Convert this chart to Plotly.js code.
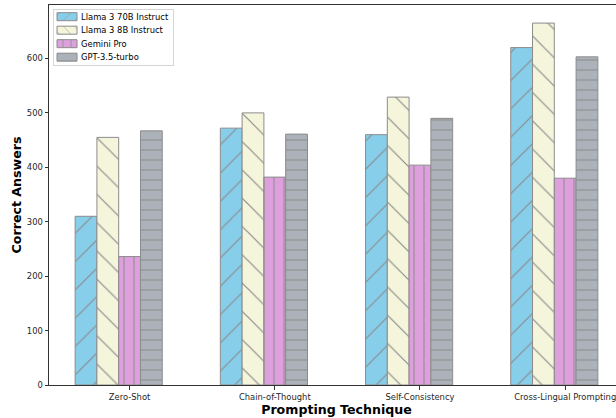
<!DOCTYPE html>
<html>
<head>
<meta charset="utf-8">
<script src="https://cdn.plot.ly/plotly-3.0.1.min.js"></script>
<style>
html,body{margin:0;padding:0;overflow:hidden;background:#fff;}
#chart{width:630px;height:418px;}
</style>
</head>
<body>
<div id="chart"></div>
<script>
const categories = ["Zero-Shot", "Chain-of-Thought", "Self-Consistency", "Cross-Lingual Prompting"];
const seriesNames = ["Llama 3 70B Instruct", "Llama 3 8B Instruct", "Gemini Pro", "GPT-3.5-turbo"];
const llama70 = [310, 472, 460, 620];
const llama8 = [455, 500, 529, 665];
const gemini = [236, 382, 404, 380];
const gpt35 = [467, 461, 490, 603];
const yTicks = [0, 100, 200, 300, 400, 500, 600];

const seriesValues = [llama70, llama8, gemini, gpt35];
const colors = ["#87ceeb", "#f5f5dc", "#dda0dd", "#abb2b9"];
const shapes = ["/", "\\", "|", "-"];
const sizes = [20, 20, 10, 10];
const solid = [0.06, 0.06, 0.1, 0.1];
const barW = 0.15;

const traces = seriesValues.map((vals, i) => ({
  type: "bar",
  name: seriesNames[i],
  x: categories,
  y: vals,
  width: barW,
  offset: (i - 2) * barW - barW / 2,
  marker: {
    color: colors[i],
    line: {color: "#8c8c8c", width: 1},
    pattern: {shape: shapes[i], fgcolor: "#8c8c8c", bgcolor: colors[i], size: sizes[i], solidity: solid[i], fillmode: "replace"}
  }
}));

const layout = {
  width: 630,
  height: 418,
  margin: {l: 49, r: 6, t: 5, b: 33},
  paper_bgcolor: "#fff",
  plot_bgcolor: "#fff",
  barmode: "overlay",
  font: {family: "DejaVu Sans", size: 8.4, color: "#262626"},
  xaxis: {
    type: "category",
    range: [-0.555, 3.405],
    showgrid: false,
    zeroline: false,
    showline: true,
    linecolor: "#333",
    linewidth: 1,
    mirror: true,
    ticks: "outside",
    ticklen: 3.5,
    tickcolor: "#333",
    tickfont: {size: 8.4, family: "DejaVu Sans"},
    title: {text: "<b>Prompting Technique</b>", font: {size: 12.6, family: "DejaVu Sans", color: "#000"}, standoff: 3}
  },
  yaxis: {
    range: [0, 698.25],
    tickvals: yTicks,
    showgrid: false,
    zeroline: false,
    showline: true,
    linecolor: "#333",
    linewidth: 1,
    mirror: true,
    ticks: "outside",
    ticklen: 3.5,
    tickcolor: "#333",
    tickfont: {size: 8.4, family: "DejaVu Sans"},
    title: {text: "<b>Correct Answers</b>", font: {size: 12.6, family: "DejaVu Sans", color: "#000"}, standoff: 2}
  },
  showlegend: true,
  legend: {
    x: 0.007, y: 0.989, xanchor: "left", yanchor: "top",
    bgcolor: "rgba(255,255,255,0.8)",
    bordercolor: "#d6d6d6",
    borderwidth: 1,
    font: {size: 8.4, family: "DejaVu Sans", color: "#000"},
    tracegroupgap: 0
  }
};

Plotly.newPlot("chart", traces, layout, {displayModeBar: false, staticPlot: true}).then(() => {
  // compact the legend to matplotlib-like proportions
  const lg = document.querySelector("g.legend");
  if (!lg) return;
  const bg = lg.querySelector("rect.bg");
  if (bg) { bg.setAttribute("width", 120); bg.setAttribute("height", 56); }
  const groups = lg.querySelector("g.groups");
  if (groups) groups.setAttribute("transform", "translate(0,0)");
  lg.querySelectorAll("g.traces").forEach((t, i) => {
    t.setAttribute("transform", "translate(0," + (7.5 + i * 13.5) + ")");
    t.querySelectorAll(".legendpoints path").forEach(p => {
      p.setAttribute("d", "M10,4H-10V-4H10Z");
      p.setAttribute("transform", "translate(14,0)");
    });
    const tx = t.querySelector("text.legendtext");
    if (tx) tx.setAttribute("x", 28);
  });
});
</script>
</body>
</html>
